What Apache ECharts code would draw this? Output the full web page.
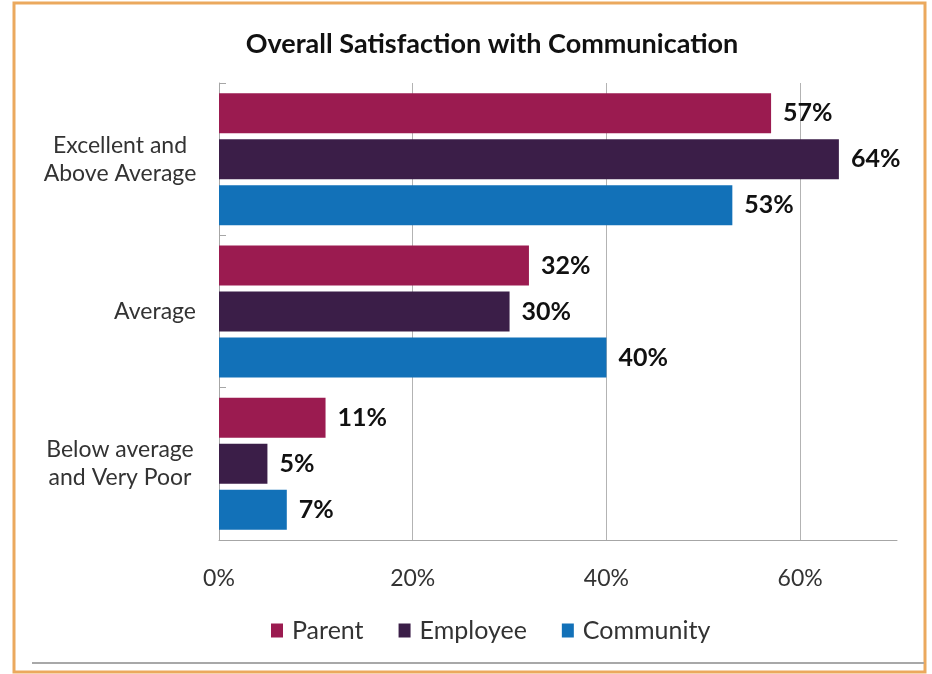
<!DOCTYPE html>
<html>
<head>
<meta charset="utf-8">
<script src="https://cdn.jsdelivr.net/npm/echarts@6/dist/echarts.min.js"></script>
<style>
html,body{margin:0;padding:0;background:#fff;}
#chart{width:932px;height:674px;}
</style>
</head>
<body>
<div id="chart"></div>
<script>
const chartTitle = 'Overall Satisfaction with Communication';
const categories = ['Excellent and\nAbove Average', 'Average', 'Below average\nand Very Poor'];
const seriesNames = ['Parent', 'Employee', 'Community'];
const parentValues = [57, 32, 11];
const employeeValues = [64, 30, 5];
const communityValues = [53, 40, 7];
const seriesColors = ['#9B1B50', '#3B1E48', '#1271B8'];

const FONT = 'Lato, "Open Sans", sans-serif';
const chart = echarts.init(document.getElementById('chart'));

function makeSeries(name, data, color) {
  return {
    name: name,
    type: 'bar',
    data: data,
    barWidth: 40,
    barGap: '15%',
    itemStyle: { color: color },
    label: {
      show: true,
      position: 'right',
      distance: 12,
      formatter: '{c}%',
      fontFamily: FONT,
      fontWeight: 'bold',
      fontSize: 25,
      color: '#111'
    }
  };
}

chart.setOption({
  animation: false,
  backgroundColor: '#fff',
  title: {
    text: chartTitle,
    left: 487,
    textAlign: 'center',
    top: 26,
    textStyle: { fontFamily: FONT, fontWeight: 'bold', fontSize: 27, color: '#111' }
  },
  legend: {
    data: seriesNames,
    left: 266,
    top: 613,
    itemWidth: 12,
    itemHeight: 14,
    itemGap: 35,
    icon: 'rect',
    textStyle: { fontFamily: FONT, fontSize: 25, color: '#333', padding: [0, 0, 0, 4] }
  },
  grid: { left: 219, right: 35, top: 83, bottom: 134, containLabel: false },
  xAxis: {
    type: 'value',
    min: 0,
    max: 70,
    interval: 20,
    axisLine: { show: true, lineStyle: { color: '#A6A6A6', width: 1 } },
    axisTick: { show: false },
    splitLine: { show: true, showMinLine: false, showMaxLine: false, lineStyle: { color: '#B3B3B3', width: 1 } },
    axisLabel: {
      formatter: '{value}%',
      showMaxLabel: false,
      margin: 27,
      fontFamily: FONT,
      fontSize: 23,
      color: '#333'
    }
  },
  yAxis: {
    type: 'category',
    data: categories,
    inverse: true,
    axisLine: { show: true, lineStyle: { color: '#A6A6A6', width: 1 } },
    axisTick: { show: true, inside: true, length: 7, lineStyle: { color: '#A6A6A6' } },
    axisLabel: {
      margin: 23,
      fontFamily: FONT,
      fontSize: 23,
      lineHeight: 28,
      color: '#333',
      formatter: function (v) {
        if (v.indexOf('\n') < 0) return v;
        return v.split('\n').map(function (s) { return '{c|' + s + '}'; }).join('\n');
      },
      rich: {
        c: { width: 152, align: 'center', fontFamily: FONT, fontSize: 23, lineHeight: 28, color: '#333' }
      }
    }
  },
  graphic: [
    {
      type: 'rect',
      silent: true,
      shape: { x: 14, y: 3, width: 911, height: 669 },
      style: { fill: null, stroke: '#EBA95E', lineWidth: 3 }
    },
    {
      type: 'line',
      silent: true,
      shape: { x1: 32, y1: 663, x2: 924, y2: 663 },
      style: { stroke: '#A8A8A8', lineWidth: 2 }
    }
  ],
  series: [
    makeSeries(seriesNames[0], parentValues, seriesColors[0]),
    makeSeries(seriesNames[1], employeeValues, seriesColors[1]),
    makeSeries(seriesNames[2], communityValues, seriesColors[2])
  ]
});
</script>
</body>
</html>
